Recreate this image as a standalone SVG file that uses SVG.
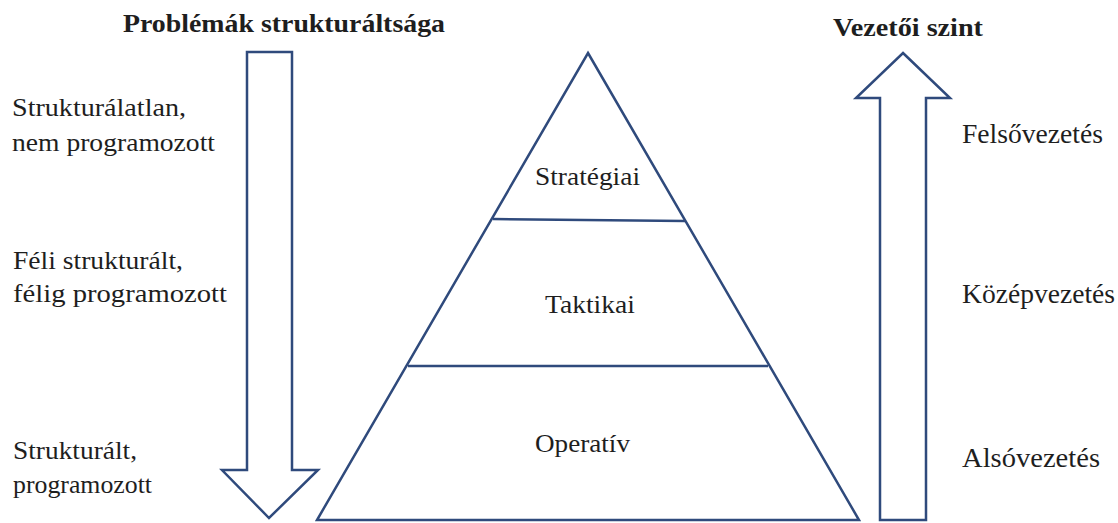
<svg xmlns="http://www.w3.org/2000/svg" width="1118" height="523" viewBox="0 0 1118 523">
  <style>
    .shape { fill: #ffffff; stroke: #2f4a7c; stroke-width: 2.5; stroke-linejoin: miter; }
    .divider { fill: none; stroke: #2f4a7c; stroke-width: 2.5; }
    .label { font-family: "Liberation Serif", "Times New Roman", serif; fill: #1e1e1e; }
    .head { font-weight: bold; font-size: 26px; }
    .side { font-size: 25px; }
    .right { font-size: 27px; }
    .level { font-size: 26px; }
  </style>
  <rect width="1118" height="523" fill="#ffffff"/>

  <!-- headings -->
  <g id="heading-structure">
    <text class="label head" x="123" y="32" textLength="322" lengthAdjust="spacingAndGlyphs">Problémák strukturáltsága</text>
  </g>
  <g id="heading-level">
    <text class="label head" x="833" y="36" textLength="150" lengthAdjust="spacingAndGlyphs">Vezetői szint</text>
  </g>

  <!-- arrows -->
  <g id="connectors">
    <g id="arrow-down">
      <path class="shape" d="M247 52 H292 V470 H318 L269 518 L222 470 H247 Z"/>
    </g>
    <g id="arrow-up">
      <path class="shape" d="M903 53 L950 98 H926 V520 H880 V98 H856 Z"/>
    </g>
  </g>

  <!-- pyramid -->
  <g id="pyramid">
    <path class="shape" d="M588 53 L859 520 H317 Z"/>
    <line class="divider" x1="493" y1="219" x2="685" y2="221"/>
    <line class="divider" x1="408" y1="366" x2="768" y2="366"/>
  </g>
  <g id="level-strategic">
    <text class="label level" x="535" y="185" textLength="105" lengthAdjust="spacingAndGlyphs">Stratégiai</text>
  </g>
  <g id="level-tactical">
    <text class="label level" x="545" y="313" textLength="90" lengthAdjust="spacingAndGlyphs">Taktikai</text>
  </g>
  <g id="level-operative">
    <text class="label level" x="535" y="452" textLength="95" lengthAdjust="spacingAndGlyphs">Operatív</text>
  </g>

  <!-- problem structure labels -->
  <g id="unstructured">
    <text class="label side" x="12" y="116" textLength="174" lengthAdjust="spacingAndGlyphs">Strukturálatlan,</text>
    <text class="label side" x="12" y="151" textLength="203" lengthAdjust="spacingAndGlyphs">nem programozott</text>
  </g>
  <g id="semi-structured">
    <text class="label side" x="13" y="269" textLength="170" lengthAdjust="spacingAndGlyphs">Féli strukturált,</text>
    <text class="label side" x="13" y="302" textLength="214" lengthAdjust="spacingAndGlyphs">félig programozott</text>
  </g>
  <g id="structured">
    <text class="label side" x="13" y="459" textLength="124" lengthAdjust="spacingAndGlyphs">Strukturált,</text>
    <text class="label side" x="13" y="493" textLength="139" lengthAdjust="spacingAndGlyphs">programozott</text>
  </g>

  <!-- management level labels -->
  <g id="top-management">
    <text class="label right" x="962" y="143" textLength="141" lengthAdjust="spacingAndGlyphs">Felsővezetés</text>
  </g>
  <g id="middle-management">
    <text class="label right" x="962" y="303" textLength="153" lengthAdjust="spacingAndGlyphs">Középvezetés</text>
  </g>
  <g id="lower-management">
    <text class="label right" x="962" y="467" textLength="138" lengthAdjust="spacingAndGlyphs">Alsóvezetés</text>
  </g>
</svg>
